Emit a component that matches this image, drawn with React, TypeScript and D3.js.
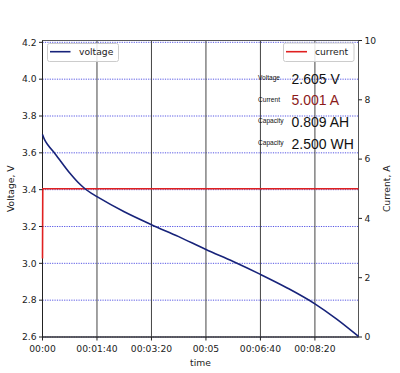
import React from "react";
import * as d3 from "d3";

const timeSec = [0, 4, 10, 23, 50, 65, 78, 90, 100, 150, 200, 250, 300, 350, 400, 450, 500, 540, 580];
const voltage = [3.70, 3.67, 3.643, 3.595, 3.49, 3.44, 3.405, 3.38, 3.362, 3.28, 3.21, 3.145, 3.075, 3.01, 2.94, 2.865, 2.78, 2.697, 2.603];
const currentTime = [0, 0.5, 580];
const current = [2.65, 5.0, 5.0];
const xTicks = [0, 100, 200, 300, 400, 500];
const xTickLabels = ["00:00", "00:01:40", "00:03:20", "00:05", "00:06:40", "00:08:20"];
const vTicks = [2.6, 2.8, 3.0, 3.2, 3.4, 3.6, 3.8, 4.0, 4.2];
const iTicks = [0, 2, 4, 6, 8, 10];
const infoLabels = ["Voltage", "Current", "Capacity", "Capacity"];
const infoValues = ["2.605 V", "5.001 A", "0.809 AH", "2.500 WH"];

const W = 400, H = 373;
const L = 42.5, R = 358.5, T = 40.5, B = 337;
const font = "DejaVu Sans, sans-serif";

export default function App() {
  const x = d3.scaleLinear().domain([0, 580]).range([L, R]);
  const yV = d3.scaleLinear().domain([2.6, 4.21]).range([B, T]);
  const yI = d3.scaleLinear().domain([0, 10]).range([B, T]);
  const vLine = d3.line<number>().x((_, i) => x(timeSec[i])).y((d) => yV(d)).curve(d3.curveMonotoneX);
  const iLine = d3.line<number>().x((_, i) => x(currentTime[i])).y((d) => yI(d));
  return (
    <svg width={W} height={H} style={{ position: "absolute", left: 0, top: 0, background: "#fff" }}>
      {/* horizontal grid */}
      {vTicks.map((t) => (
        <line key={"hg" + t} x1={L} x2={R} y1={yV(t)} y2={yV(t)} stroke="#3a3ae0" strokeWidth={1} strokeDasharray="1.2,1.2" opacity={0.85} />
      ))}
      {/* vertical grid */}
      {xTicks.map((t) => (
        <line key={"vg" + t} x1={x(t)} x2={x(t)} y1={T} y2={B} stroke="#444" strokeWidth={1} />
      ))}
      {/* frame */}
      <rect x={L} y={T} width={R - L} height={B - T} fill="none" stroke="#555" strokeWidth={1} />
      <line x1={L} x2={L} y1={T} y2={B} stroke="#222" />
      <line x1={L} x2={R} y1={B} y2={B} stroke="#222" />
      {/* current */}
      <path d={iLine(current) || ""} fill="none" stroke="#e02020" strokeWidth={1.6} />
      {/* voltage */}
      <path d={vLine(voltage) || ""} fill="none" stroke="#17237a" strokeWidth={1.6} />
      {/* left ticks */}
      {vTicks.map((t) => (
        <g key={"vt" + t}>
          <line x1={L - 3.5} x2={L} y1={yV(t)} y2={yV(t)} stroke="#222" />
          <text x={L - 6} y={yV(t)} dy="0.35em" textAnchor="end" fontFamily={font} fontSize={9.2} fill="#222">{t.toFixed(1)}</text>
        </g>
      ))}
      {/* right ticks */}
      {iTicks.map((t) => (
        <g key={"it" + t}>
          <line x1={R} x2={R + 3.5} y1={yI(t)} y2={yI(t)} stroke="#222" />
          <text x={R + 6} y={yI(t)} dy="0.35em" textAnchor="start" fontFamily={font} fontSize={9.2} fill="#222">{t}</text>
        </g>
      ))}
      {/* bottom ticks */}
      {xTicks.map((t, i) => (
        <g key={"xt" + t}>
          <line x1={x(t)} x2={x(t)} y1={B} y2={B + 3.5} stroke="#222" />
          <text x={x(t)} y={B + 15} textAnchor="middle" fontFamily={font} fontSize={9.2} fill="#222">{xTickLabels[i]}</text>
        </g>
      ))}
      <text x={(L + R) / 2} y={366} textAnchor="middle" fontFamily={font} fontSize={9.2} fill="#222">time</text>
      <text transform={`translate(14,${(T + B) / 2}) rotate(-90)`} textAnchor="middle" fontFamily={font} fontSize={9.2} fill="#222">Voltage, V</text>
      <text transform={`translate(390,${(T + B) / 2}) rotate(-90)`} textAnchor="middle" fontFamily={font} fontSize={9.2} fill="#222">Current, A</text>
      {/* legends */}
      <rect x={47.5} y={43.5} width={71} height={18} rx={2} fill="#fff" fillOpacity={0.85} stroke="#ccc" />
      <line x1={50} x2={70.5} y1={51.7} y2={51.7} stroke="#17237a" strokeWidth={1.6} />
      <text x={79} y={55} fontFamily={font} fontSize={9.2} fill="#222">voltage</text>
      <rect x={283.5} y={43} width={70.5} height={18.5} rx={2} fill="#fff" fillOpacity={0.85} stroke="#ccc" />
      <line x1={286} x2={307} y1={51.7} y2={51.7} stroke="#e02020" strokeWidth={1.6} />
      <text x={315} y={55} fontFamily={font} fontSize={9.2} fill="#222">current</text>
      {/* info */}
      {infoLabels.map((lab, i) => (
        <g key={"info" + i}>
          <text x={258} y={80 + i * 21.7} fontFamily="Liberation Sans, sans-serif" fontSize={6.6} fill="#111">{lab}</text>
          <text x={291.5} y={83.5 + i * 21.7} fontFamily="Liberation Sans, sans-serif" fontSize={14} fill={i === 1 ? "#8b1a1a" : "#111"}>{infoValues[i]}</text>
        </g>
      ))}
    </svg>
  );
}
